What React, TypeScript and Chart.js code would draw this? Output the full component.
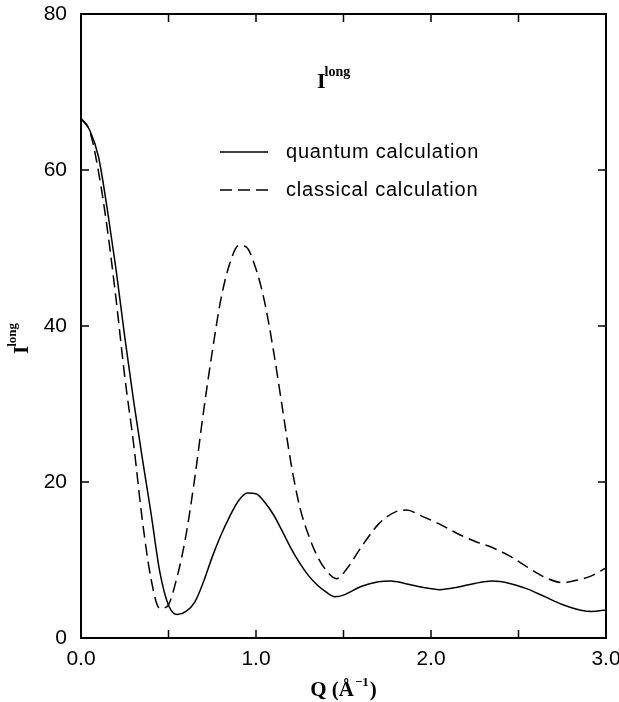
import React, { useEffect, useRef } from 'react';
import { Chart, registerables } from 'chart.js';

Chart.register(...registerables);

// Q values (Å^-1) and I_long values
const quantumQ = [0, 0.05, 0.1, 0.15, 0.2, 0.25, 0.3, 0.35, 0.4, 0.45, 0.5, 0.55, 0.6, 0.65, 0.7, 0.75, 0.8, 0.85, 0.9, 0.95, 1.0, 1.05, 1.1, 1.15, 1.2, 1.25, 1.3, 1.35, 1.4, 1.45, 1.5, 1.6, 1.7, 1.77, 1.85, 1.95, 2.05, 2.15, 2.25, 2.35, 2.45, 2.55, 2.65, 2.75, 2.85, 2.92, 3.0];
const quantumI = [66.6, 65.1, 61.7, 55.0, 47.3, 38.6, 30.5, 23.1, 16.0, 8.5, 4.2, 3.0, 3.4, 4.6, 7.2, 10.4, 13.2, 15.6, 17.6, 18.6, 18.5, 17.4, 15.8, 13.7, 11.5, 9.6, 8.0, 6.8, 5.9, 5.3, 5.5, 6.6, 7.2, 7.3, 7.0, 6.5, 6.2, 6.5, 7.0, 7.3, 7.0, 6.3, 5.3, 4.3, 3.6, 3.4, 3.6];

const classicalQ = [0, 0.05, 0.1, 0.15, 0.2, 0.25, 0.3, 0.35, 0.4, 0.45, 0.49, 0.55, 0.6, 0.65, 0.7, 0.75, 0.8, 0.85, 0.9, 0.94, 1.0, 1.05, 1.1, 1.15, 1.2, 1.25, 1.3, 1.35, 1.4, 1.46, 1.52, 1.6, 1.7, 1.8, 1.86, 1.95, 2.05, 2.15, 2.25, 2.35, 2.45, 2.55, 2.65, 2.75, 2.85, 2.92, 3.0];
const classicalI = [66.6, 65.0, 59.8, 52.5, 43.5, 33.5, 25.0, 15.2, 7.6, 3.8, 4.0, 7.9, 13.2, 20.5, 29.0, 36.7, 43.5, 48.0, 50.3, 50.2, 47.3, 43.0, 36.8, 29.6, 22.4, 16.8, 13.2, 10.5, 8.7, 7.6, 8.9, 11.6, 14.6, 16.2, 16.4, 15.6, 14.6, 13.4, 12.4, 11.6, 10.5, 9.1, 7.8, 7.1, 7.5, 8.0, 9.0];

const seriesLabels = ['quantum calculation', 'classical calculation'];
const xMin = 0;
const xMax = 3;
const xStep = 0.5;
const yMin = 0;
const yMax = 80;
const yStep = 20;

const SANS = '"Liberation Sans", Arial, Helvetica, sans-serif';
const SERIF = '"Liberation Serif", "Times New Roman", Times, serif';

const framePlugin = {
  id: 'frameAndDecor',
  afterDraw(chart: any) {
    const { ctx, chartArea } = chart;
    const xs = chart.scales.x;
    const ys = chart.scales.y;
    const { left, right, top, bottom } = chartArea;
    ctx.save();
    // frame
    ctx.strokeStyle = '#000';
    ctx.lineWidth = 2;
    ctx.setLineDash([]);
    ctx.strokeRect(left, top, right - left, bottom - top);
    // inward ticks on all sides
    ctx.lineWidth = 1.5;
    const tl = 8;
    ctx.beginPath();
    for (let v = xMin; v <= xMax + 1e-9; v += xStep) {
      const px = xs.getPixelForValue(v);
      ctx.moveTo(px, bottom);
      ctx.lineTo(px, bottom - tl);
      ctx.moveTo(px, top);
      ctx.lineTo(px, top + tl);
    }
    for (let v = yMin; v <= yMax + 1e-9; v += yStep) {
      const py = ys.getPixelForValue(v);
      ctx.moveTo(left, py);
      ctx.lineTo(left + tl, py);
      ctx.moveTo(right, py);
      ctx.lineTo(right - tl, py);
    }
    ctx.stroke();

    // legend inside plot
    ctx.fillStyle = '#000';
    ctx.textAlign = 'left';
    ctx.textBaseline = 'alphabetic';
    const legendRows = [
      { lineY: 152, textY: 158 },
      { lineY: 190, textY: 196 },
    ];
    chart.data.datasets.forEach((ds: any, i: number) => {
      const row = legendRows[i];
      ctx.save();
      ctx.lineWidth = 1.5;
      ctx.strokeStyle = '#000';
      ctx.setLineDash(ds.borderDash || []);
      ctx.beginPath();
      ctx.moveTo(220, row.lineY);
      ctx.lineTo(268, row.lineY);
      ctx.stroke();
      ctx.restore();
      ctx.save();
      ctx.font = `20px ${SANS}`;
      try { (ctx as any).letterSpacing = '0.8px'; } catch (e) {}
      ctx.fillText(ds.label, 286, row.textY);
      ctx.restore();
    });

    // title inside plot: I^long
    ctx.font = `bold 22px ${SERIF}`;
    ctx.fillText('I', 317, 88);
    const wI = ctx.measureText('I').width;
    ctx.font = `bold 14px ${SERIF}`;
    ctx.fillText('long', 317 + wI - 1, 76);

    // y axis title (rotated): I^long
    ctx.save();
    ctx.translate(28, 354);
    ctx.rotate(-Math.PI / 2);
    ctx.font = `bold 21px ${SERIF}`;
    ctx.fillText('I', 0, 0);
    const wI2 = ctx.measureText('I').width;
    ctx.font = `bold 13px ${SERIF}`;
    ctx.fillText('long', wI2 - 1, -12);
    ctx.restore();

    // x axis title: Q (Å^-1)
    ctx.font = `bold 21px ${SERIF}`;
    const part1 = 'Q (Å';
    const w1 = ctx.measureText(part1).width;
    ctx.font = `bold 13px ${SERIF}`;
    const sup = '−1';
    const w2 = ctx.measureText(sup).width;
    ctx.font = `bold 21px ${SERIF}`;
    const part3 = ')';
    const w3 = ctx.measureText(part3).width;
    const total = w1 + w2 + 2 + w3;
    const x0 = (left + right) / 2 - total / 2;
    const base = 696;
    ctx.fillText(part1, x0, base);
    ctx.font = `bold 13px ${SERIF}`;
    ctx.fillText(sup, x0 + w1 + 1, base - 10);
    ctx.font = `bold 21px ${SERIF}`;
    ctx.fillText(part3, x0 + w1 + w2 + 2, base);
    ctx.restore();
  },
};

export default function App() {
  const canvasRef = useRef<HTMLCanvasElement | null>(null);

  useEffect(() => {
    const canvas = canvasRef.current;
    if (!canvas) return;
    const quantum = quantumQ.map((q, i) => ({ x: q, y: quantumI[i] }));
    const classical = classicalQ.map((q, i) => ({ x: q, y: classicalI[i] }));
    const chart = new Chart(canvas, {
      type: 'line',
      data: {
        datasets: [
          {
            label: seriesLabels[0],
            data: quantum,
            borderColor: '#000',
            borderWidth: 1.5,
            pointRadius: 0,
            fill: false,
            cubicInterpolationMode: 'monotone',
          },
          {
            label: seriesLabels[1],
            data: classical,
            borderColor: '#000',
            borderWidth: 1.5,
            borderDash: [12, 6],
            pointRadius: 0,
            fill: false,
            cubicInterpolationMode: 'monotone',
          },
        ],
      },
      options: {
        responsive: false,
        animation: false,
        devicePixelRatio: 1,
        layout: { padding: { top: 14, right: 13, left: 0, bottom: 0 } },
        plugins: {
          legend: { display: false },
          tooltip: { enabled: false },
          title: { display: false },
        },
        scales: {
          x: {
            type: 'linear',
            min: xMin,
            max: xMax,
            grid: { display: false, drawTicks: false },
            border: { display: false },
            ticks: {
              stepSize: xStep,
              autoSkip: false,
              maxRotation: 0,
              padding: 9,
              color: '#000',
              font: { family: SANS, size: 21 },
              callback: (v: any) => (Math.abs(v - Math.round(v)) < 1e-9 ? Number(v).toFixed(1) : ''),
            },
            afterFit: (s: any) => {
              s.height = 64;
              s.paddingLeft = 0;
              s.paddingRight = 0;
            },
          },
          y: {
            type: 'linear',
            min: yMin,
            max: yMax,
            grid: { display: false, drawTicks: false },
            border: { display: false },
            ticks: {
              stepSize: yStep,
              padding: 14,
              color: '#000',
              font: { family: SANS, size: 21 },
            },
            afterFit: (s: any) => {
              s.width = 81;
              s.paddingTop = 0;
              s.paddingBottom = 0;
            },
          },
        },
      },
      plugins: [framePlugin],
    } as any);
    return () => chart.destroy();
  }, []);

  return (
    <div style={{ position: 'fixed', left: 0, top: 0, width: 619, height: 702, background: '#fff' }}>
      <canvas ref={canvasRef} width={619} height={702} />
    </div>
  );
}
